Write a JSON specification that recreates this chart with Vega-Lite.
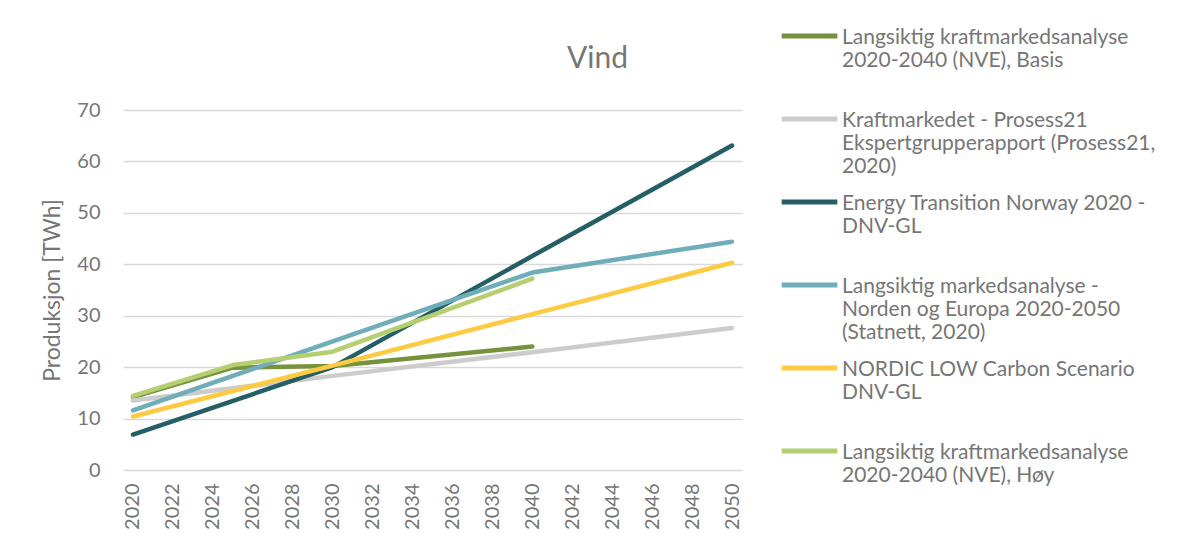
{
  "$schema": "https://vega.github.io/schema/vega-lite/v6.json",
  "width": 619,
  "height": 360,
  "autosize": {"type": "none"},
  "padding": {"left": 123, "top": 110, "right": 437, "bottom": 72},
  "background": "white",
  "config": {
    "view": {"stroke": null},
    "font": "Lato",
    "text": {"font": "Lato"}
  },
  "title": {
    "text": "Vind",
    "fontSize": 30,
    "font": "Lato",
    "fontWeight": "normal",
    "color": "#767676",
    "anchor": "middle",
    "dx": 165,
    "offset": -63
  },
  "data": {
    "values": [
      {"serie": "Langsiktig kraftmarkedsanalyse 2020-2040 (NVE), Basis", "year": 2020, "value": 14.2},
      {"serie": "Langsiktig kraftmarkedsanalyse 2020-2040 (NVE), Basis", "year": 2025, "value": 19.9},
      {"serie": "Langsiktig kraftmarkedsanalyse 2020-2040 (NVE), Basis", "year": 2030, "value": 20.2},
      {"serie": "Langsiktig kraftmarkedsanalyse 2020-2040 (NVE), Basis", "year": 2040, "value": 24.0},
      {"serie": "Kraftmarkedet - Prosess21 Ekspertgrupperapport (Prosess21, 2020)", "year": 2020, "value": 13.5},
      {"serie": "Kraftmarkedet - Prosess21 Ekspertgrupperapport (Prosess21, 2020)", "year": 2030, "value": 18.3},
      {"serie": "Kraftmarkedet - Prosess21 Ekspertgrupperapport (Prosess21, 2020)", "year": 2040, "value": 22.9},
      {"serie": "Kraftmarkedet - Prosess21 Ekspertgrupperapport (Prosess21, 2020)", "year": 2050, "value": 27.6},
      {"serie": "Energy Transition Norway 2020 - DNV-GL", "year": 2020, "value": 6.9},
      {"serie": "Energy Transition Norway 2020 - DNV-GL", "year": 2030, "value": 20.0},
      {"serie": "Energy Transition Norway 2020 - DNV-GL", "year": 2040, "value": 41.6},
      {"serie": "Energy Transition Norway 2020 - DNV-GL", "year": 2050, "value": 63.1},
      {"serie": "Langsiktig markedsanalyse - Norden og Europa 2020-2050 (Statnett, 2020)", "year": 2020, "value": 11.6},
      {"serie": "Langsiktig markedsanalyse - Norden og Europa 2020-2050 (Statnett, 2020)", "year": 2030, "value": 25.0},
      {"serie": "Langsiktig markedsanalyse - Norden og Europa 2020-2050 (Statnett, 2020)", "year": 2040, "value": 38.4},
      {"serie": "Langsiktig markedsanalyse - Norden og Europa 2020-2050 (Statnett, 2020)", "year": 2050, "value": 44.4},
      {"serie": "NORDIC LOW Carbon Scenario DNV-GL", "year": 2020, "value": 10.4},
      {"serie": "NORDIC LOW Carbon Scenario DNV-GL", "year": 2030, "value": 20.3},
      {"serie": "NORDIC LOW Carbon Scenario DNV-GL", "year": 2040, "value": 30.3},
      {"serie": "NORDIC LOW Carbon Scenario DNV-GL", "year": 2050, "value": 40.3},
      {"serie": "Langsiktig kraftmarkedsanalyse 2020-2040 (NVE), Høy", "year": 2020, "value": 14.4},
      {"serie": "Langsiktig kraftmarkedsanalyse 2020-2040 (NVE), Høy", "year": 2025, "value": 20.4},
      {"serie": "Langsiktig kraftmarkedsanalyse 2020-2040 (NVE), Høy", "year": 2030, "value": 23.0},
      {"serie": "Langsiktig kraftmarkedsanalyse 2020-2040 (NVE), Høy", "year": 2040, "value": 37.2}
    ]
  },
  "mark": {"type": "line", "strokeWidth": 4.5, "strokeCap": "round", "strokeJoin": "round"},
  "encoding": {
    "x": {
      "field": "year",
      "type": "quantitative",
      "scale": {"domain": [2019.5, 2050.5], "nice": false, "zero": false},
      "axis": {
        "title": null,
        "values": [2020, 2022, 2024, 2026, 2028, 2030, 2032, 2034, 2036, 2038, 2040, 2042, 2044, 2046, 2048, 2050],
        "format": "d",
        "labelAngle": 270,
        "labelAlign": "right",
        "labelBaseline": "middle",
        "labelFontSize": 20,
        "labelColor": "#767676",
        "labelPadding": 13,
        "labelFont": "Lato",
        "labelOverlap": false,
        "ticks": false,
        "domain": false,
        "grid": false
      }
    },
    "y": {
      "field": "value",
      "type": "quantitative",
      "scale": {"domain": [0, 70], "nice": false},
      "axis": {
        "title": "Produksjon [TWh]",
        "titleFontSize": 23,
        "titleFont": "Lato",
        "titleFontWeight": "normal",
        "titleColor": "#767676",
        "titlePadding": 12,
        "values": [0, 10, 20, 30, 40, 50, 60, 70],
        "labelFontSize": 20,
        "labelFont": "Lato",
        "labelColor": "#767676",
        "labelPadding": 23,
        "ticks": false,
        "domain": false,
        "grid": true,
        "gridColor": "#D9D9D9",
        "gridWidth": 1.5
      }
    },
    "color": {
      "field": "serie",
      "type": "nominal",
      "sort": null,
      "scale": {
        "domain": [
          "Langsiktig kraftmarkedsanalyse 2020-2040 (NVE), Basis",
          "Kraftmarkedet - Prosess21 Ekspertgrupperapport (Prosess21, 2020)",
          "Energy Transition Norway 2020 - DNV-GL",
          "Langsiktig markedsanalyse - Norden og Europa 2020-2050 (Statnett, 2020)",
          "NORDIC LOW Carbon Scenario DNV-GL",
          "Langsiktig kraftmarkedsanalyse 2020-2040 (NVE), Høy"
        ],
        "range": ["#76923C", "#CCCCCC", "#255E64", "#6FADB8", "#FCCB42", "#B4CE70"]
      },
      "legend": {
        "title": null,
        "orient": "none",
        "legendX": 656,
        "legendY": -99,
        "symbolType": "stroke",
        "symbolSize": 3100,
        "symbolStrokeWidth": 5,
        "labelFontSize": 21,
        "labelFont": "Lato",
        "labelColor": "#767676",
        "labelLimit": 380,
        "labelLineHeight": 27,
        "labelBaseline": "top",
        "labelOffset": 2,
        "rowPadding": 0,
        "clipHeight": 50,
        "columns": 1,
        "encode": {"labels": {"update": {"dy": {"value": -9}}}},
        "labelExpr": "datum.label == 'Langsiktig kraftmarkedsanalyse 2020-2040 (NVE), Basis' ? ['Langsiktig kraftmarkedsanalyse', '2020-2040 (NVE), Basis', ''] : datum.label == 'Kraftmarkedet - Prosess21 Ekspertgrupperapport (Prosess21, 2020)' ? ['Kraftmarkedet - Prosess21', 'Ekspertgrupperapport (Prosess21,', '2020)'] : datum.label == 'Energy Transition Norway 2020 - DNV-GL' ? ['Energy Transition Norway 2020 -', 'DNV-GL', ''] : datum.label == 'Langsiktig markedsanalyse - Norden og Europa 2020-2050 (Statnett, 2020)' ? ['Langsiktig markedsanalyse -', 'Norden og Europa 2020-2050', '(Statnett, 2020)'] : datum.label == 'NORDIC LOW Carbon Scenario DNV-GL' ? ['NORDIC LOW Carbon Scenario', 'DNV-GL', ''] : ['Langsiktig kraftmarkedsanalyse', '2020-2040 (NVE), Høy', '']"
      }
    }
  }
}
